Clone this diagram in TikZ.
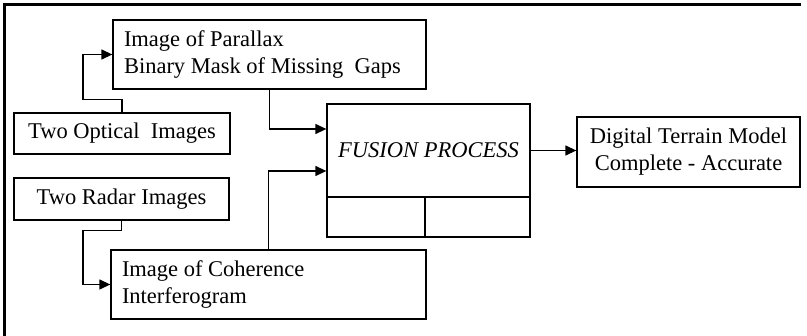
\documentclass[tikz,border=0pt]{standalone}
\usepackage{fontspec}
\setmainfont{Liberation Serif}
\usetikzlibrary{arrows.meta}

\begin{document}
\begin{tikzpicture}[x=1pt, y=-1pt, font=\fontsize{22.5}{27}\selectfont]
    \tikzstyle{box} = [draw, line width=1.3pt, inner sep=0pt, align=center]
    \tikzstyle{wide} = [box, inner xsep=11pt, align=flush left]
    \tikzstyle{link} = [line width=1.3pt, -{Triangle[length=11pt, width=10pt]}]
    \tikzstyle{frame} = [line width=2.5pt]
    \useasboundingbox (0, 0) rectangle (807, 336);
    \draw[frame] (4.5, 336) -- (4.5, 4.5) -- (801, 4.5);
    % input boxes
    \node[box, minimum width=216pt, minimum height=41pt] (opt) at (122, 133.5) {Two Optical~ Images};
    \node[box, minimum width=215pt, minimum height=42pt] (rad) at (121.5, 199) {Two Radar Images};
    \node[wide, text width=291pt, minimum height=69pt] (par) at (269.5, 54.5) {Image of Parallax\\Binary Mask of Missing~ Gaps};
    \node[wide, text width=293pt, minimum height=69pt] (coh) at (268.5, 284.5) {Image of Coherence\\Interferogram};
    % fusion block
    \node[box, minimum width=203pt, minimum height=93pt] (fus) at (428.5, 150.5) {\textit{FUSION PROCESS}};
    \node[box, minimum width=98pt, minimum height=40pt] (fusa) at (376, 217) {};
    \node[box, minimum width=105pt, minimum height=40pt] (fusb) at (477.5, 217) {};
    \node[box, minimum width=223pt, minimum height=70pt] (dtm) at (688.5, 152) {Digital Terrain Model\\Complete - Accurate};
    % connectors
    \draw[link] (opt.north) -- ++(0, -13) -- ++(-39, 0) |- (par.west);
    \draw[link] (rad.south) -- ++(0, 10) -- ++(-38.5, 0) |- (coh.west);
    \draw[link] (par.south) |- ([yshift=21.5pt]fus.west);
    \draw[link] (coh.north) |- ([yshift=-20.5pt]fus.west);
    \draw[link] (fus.east) -- (fus.east -| dtm.west);
\end{tikzpicture}
\end{document}
